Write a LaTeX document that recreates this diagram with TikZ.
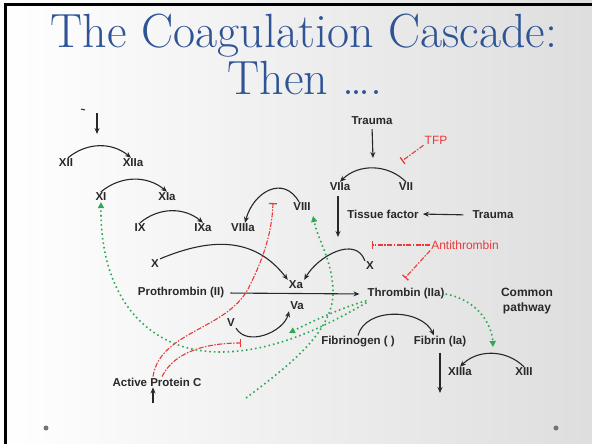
\documentclass[tikz,border=0pt]{standalone}
\usepackage{fontspec}
\setsansfont{Liberation Sans}
\usetikzlibrary{arrows.meta}
\definecolor{titleblue}{RGB}{46,84,150}
\definecolor{inhred}{RGB}{232,58,58}
\definecolor{actgreen}{RGB}{46,168,84}
\definecolor{ink}{RGB}{40,40,40}
\begin{document}
\begin{tikzpicture}[x=1pt,y=-1pt,
  lbl/.style={font=\sffamily\bfseries\fontsize{11.5}{13}\selectfont, text=ink, inner sep=1pt},
  rlbl/.style={font=\sffamily\fontsize{12}{13}\selectfont, text=inhred, inner sep=1pt},
  ttl/.style={font=\fontsize{48}{50}\selectfont, text=titleblue, anchor=base},
  arr/.style={draw=ink, line width=1.1pt, -{Stealth[length=6pt,width=5pt]}},
  inh/.style={draw=inhred, line width=1.1pt, dash pattern=on 5pt off 1.5pt on 1.5pt off 1.5pt, -{Bar[width=8pt,line width=1.3pt]}},
  act/.style={draw=actgreen, line width=1.6pt, dash pattern=on 1.6pt off 3pt, -{Triangle[length=6pt,width=6pt]}},
  bullet/.style={fill=black!55}
]
\shade[left color=white, right color=black!13] (0,0) rectangle (592,444);
\useasboundingbox (0,0) rectangle (592,444);
\draw[line width=3pt, black] (5,444) -- (5,5) -- (592,5);
\fill[bullet] (46,428) circle (2.5pt);
\fill[bullet] (556,428) circle (2.5pt);

% title
\node[ttl] (title1) at (304,48) {The Coagulation Cascade:};
\node[ttl] (title2) at (305,95) {Then ….};

% labels
\node[lbl] (xii) at (66,163) {XII};
\node[lbl] (xiia) at (133,163) {XIIa};
\node[lbl] (xi) at (101,197) {XI};
\node[lbl] (xia) at (167,197) {XIa};
\node[lbl] (ix) at (140,228) {IX};
\node[lbl] (ixa) at (203,228) {IXa};
\node[lbl] (viiia) at (243,228) {VIIIa};
\node[lbl] (viii) at (302,207) {VIII};
\node[lbl] (trA) at (372,121) {Trauma};
\node[lbl] (viia) at (340,187) {VIIa};
\node[lbl] (vii) at (406,187) {VII};
\node[rlbl] (tfp) at (436,140) {TFP};
\node[lbl] (tf) at (383,214) {Tissue factor};
\node[lbl] (trB) at (493,215) {Trauma};
\node[lbl] (xl) at (155,264) {X};
\node[lbl] (xa) at (296,285) {Xa};
\node[lbl] (xr) at (370,266) {X};
\node[rlbl] (at) at (465,245) {Antithrombin};
\node[lbl] (pro) at (181,293) {Prothrombin (II)};
\node[lbl] (thr) at (406,294) {Thrombin (IIa)};
\node[lbl] (va) at (297,306) {Va};
\node[lbl] (v) at (231,323) {V};
\node[lbl, align=center, font=\sffamily\bfseries\fontsize{12}{15}\selectfont] (cp) at (527,301) {Common\\pathway};
\node[lbl] (fbg) at (358,342) {Fibrinogen ( )};
\node[lbl] (fbn) at (440,342) {Fibrin (Ia)};
\node[lbl] (xiiia) at (460,372) {XIIIa};
\node[lbl] (xiii) at (524,372) {XIII};
\node[lbl] (apc) at (157,382) {Active Protein C};

% free ends
\coordinate (topS) at (97,113);
\coordinate (topE) at (97,134);
\coordinate (trAend) at (373,158);
\coordinate (tfpend) at (402,161);
\coordinate (viiaend) at (338,237);
\coordinate (atend1) at (372,245);
\coordinate (atend2) at (405,278);
\coordinate (fbnend) at (440,393);
\coordinate (apcin) at (153,403);
\coordinate (inhviii) at (273,203);
\coordinate (inhv) at (241,343);
\coordinate (actva) at (289,333);
\coordinate (cfree) at (246,398);
\coordinate (actviii) at (313,216);
\coordinate (actxiii) at (493,347);

% black connectors
\draw[ink, line width=1pt] (81,109) -- (85,110);
\draw[arr] (topS) -- (topE);
\draw[arr] ([xshift=2pt]xii.north) to[out=40,in=140] ([xshift=-2pt]xiia.north);
\draw[arr] (xi.north) to[out=40,in=140] (xia.north);
\draw[arr] (ix.north) to[out=40,in=140] (ixa.north);
\draw[arr] ([xshift=-3pt]viii.north) to[out=120,in=75,looseness=1.4] ([xshift=2pt]viiia.north);
\draw[arr, shorten <=3pt] (trA.south) -- (trAend);
\draw[arr] (vii.north) to[out=135,in=45] (viia.north);
\draw[arr, shorten <=8pt, shorten >=3pt] (trB.west) -- (tf.east);
\draw[arr, shorten <=4pt] (viia.south -| viiaend) -- (viiaend);
\draw[arr] (xl.north east) .. controls (210,238) and (254,236) .. (xa.north west);
\draw[arr] (xr.north west) to[out=110,in=60,looseness=1.1] (xa.north east);
\draw[arr, shorten <=5pt, shorten >=7pt] (pro.east) -- (thr.west);
\draw[arr] (v.south east) to[out=-60,in=-105] (va.south west);
\draw[arr] (fbg.north) to[out=75,in=115] ([xshift=-6pt]fbn.north);
\draw[arr, shorten <=4pt] (fbn.south) -- (fbnend);
\draw[arr] (xiii.north) to[out=135,in=45] (xiiia.north);
\draw[arr] (apcin) -- (apcin |- apc.south);

% inhibitors
\draw[inh] (tfp.south west) -- (tfpend);
\draw[inh] (at.west) -- (atend1);
\draw[inh] (at.south west) -- (atend2);
\draw[inh] ([xshift=-4pt]apc.north) .. controls (160,330) and (230,330) .. (250,285) .. controls (265,255) and (272,230) .. (inhviii);
\draw[inh] ([xshift=5pt]apc.north) .. controls (175,350) and (210,343) .. (inhv);

% activations
\draw[act] ([yshift=-2pt]thr.south west) .. controls (320,330) and (270,352) .. (220,352) .. controls (150,352) and (100,300) .. (xi.south);
\draw[act] (thr.south west) .. controls (335,310) and (305,325) .. (actva);
\draw[act] (cfree) .. controls (290,365) and (335,330) .. (333,290) .. controls (332,260) and (318,240) .. (actviii);
\draw[act] (thr.east) .. controls (478,300) and (492,325) .. (actxiii);
\end{tikzpicture}
\end{document}
